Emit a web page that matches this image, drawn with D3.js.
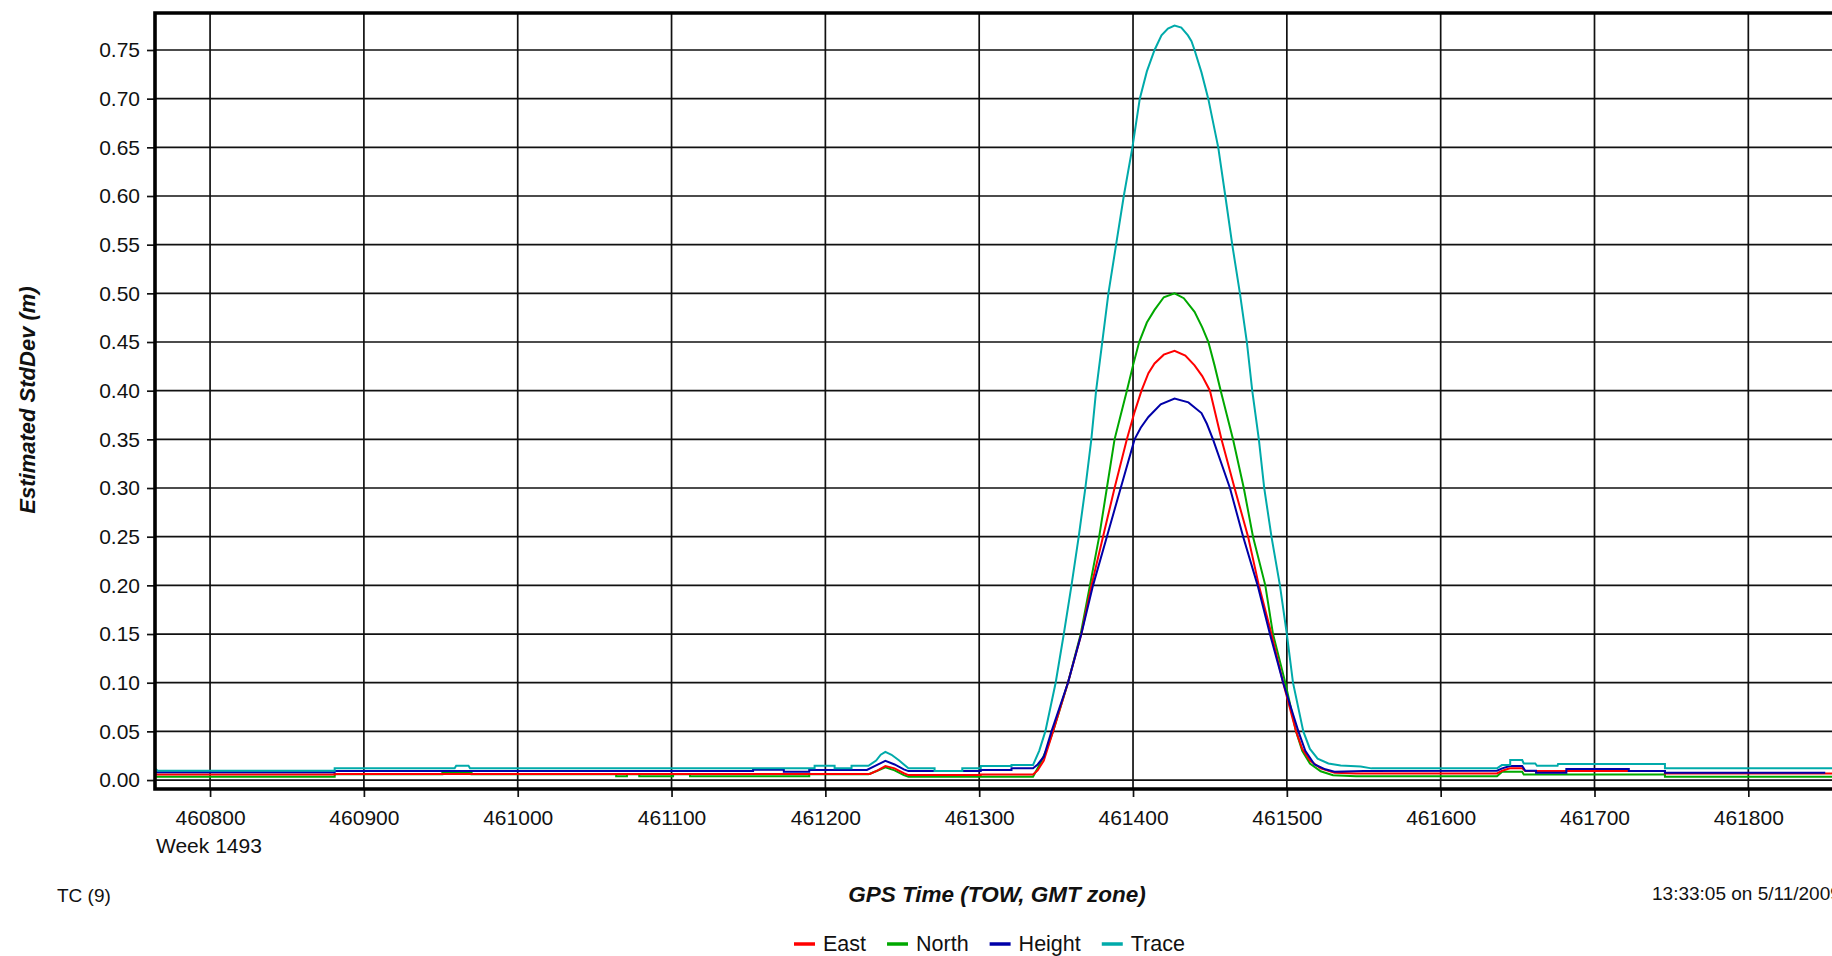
<!DOCTYPE html>
<html>
<head>
<meta charset="utf-8">
<script src="https://cdn.jsdelivr.net/npm/d3@7"></script>
<style>
  body { margin: 0; background: #fff; overflow: hidden; }
  text { font-family: "Liberation Sans", Arial, sans-serif; fill: #111; }
</style>
</head>
<body>
<div id="chart"></div>
<script>

// ----- data -----

// tick values
var xTicks = [460800, 460900, 461000, 461100, 461200, 461300, 461400, 461500, 461600, 461700, 461800];
var yTicks = [0, 0.05, 0.10, 0.15, 0.20, 0.25, 0.30, 0.35, 0.40, 0.45, 0.50, 0.55, 0.60, 0.65, 0.70, 0.75];

var seriesNames = ["East", "North", "Height", "Trace"];

// [GPS time (TOW), std dev (m)]
var eastData = [
  [460764, 0.0058], [460881, 0.0058], [460881, 0.0062], [461229, 0.0062], [461234, 0.010], [461239, 0.0144],
  [461245, 0.012], [461251, 0.007], [461254, 0.0051], [461301, 0.0051], [461301, 0.0058], [461335, 0.0058],
  [461338, 0.010], [461342, 0.020], [461348, 0.05], [461357.7, 0.10], [461366.4, 0.15], [461373, 0.20],
  [461380.5, 0.25], [461388, 0.30], [461396, 0.35], [461401, 0.378], [461405.5, 0.40], [461410, 0.418],
  [461414, 0.428], [461420, 0.437], [461427, 0.441], [461434, 0.436], [461440, 0.426], [461445, 0.415],
  [461450, 0.40], [461457.5, 0.35], [461466, 0.30], [461474.8, 0.25], [461481.8, 0.20], [461490, 0.15],
  [461497.6, 0.10], [461506, 0.05], [461510, 0.032], [461515, 0.020], [461522, 0.012], [461531, 0.0075],
  [461545, 0.0068],
  [461636.6, 0.0068], [461640, 0.0095], [461645, 0.012], [461653, 0.012], [461655, 0.0092], [461745.8, 0.0092],
  [461745.8, 0.0068], [461870, 0.0068]
];

var northData = [
  [460764, 0.0034], [460881, 0.0034], [460881, 0.006], [460951, 0.006], [460951, 0.0075], [460970, 0.0075],
  [460970, 0.006], [461064, 0.006], [461064, 0.004], [461071, 0.004], [461071, 0.006], [461079, 0.006],
  [461079, 0.004], [461101, 0.004], [461101, 0.006], [461112, 0.006], [461112, 0.004], [461189.5, 0.004],
  [461189.5, 0.006], [461228, 0.006], [461233, 0.009], [461239, 0.013], [461245, 0.010], [461251, 0.005],
  [461254, 0.0034], [461335, 0.0034],
  [461340, 0.018], [461344, 0.032], [461348, 0.05], [461357.7, 0.10], [461366, 0.15], [461372, 0.20],
  [461378, 0.25], [461383, 0.30], [461388, 0.35], [461392, 0.375], [461396, 0.40], [461400, 0.426],
  [461404, 0.45], [461409, 0.47], [461414, 0.483], [461420, 0.496], [461427, 0.50], [461433, 0.495],
  [461440, 0.481], [461445, 0.465], [461449, 0.45], [461453, 0.426], [461457, 0.40], [461461, 0.375],
  [461465, 0.35], [461472, 0.30], [461478, 0.25], [461486, 0.20], [461491, 0.15], [461499, 0.10],
  [461506, 0.05], [461510, 0.030], [461515, 0.017], [461522, 0.009], [461530, 0.005], [461545, 0.004],
  [461636.6, 0.004], [461640, 0.0086], [461653, 0.0086], [461654, 0.0058], [461745.8, 0.0058],
  [461745.8, 0.0034], [461870, 0.0034]
];

var heightData = [
  [460764, 0.0079], [460881, 0.0079], [460881, 0.0092], [461153, 0.0092], [461153, 0.0105], [461173, 0.0105],
  [461173, 0.0086], [461189.5, 0.0086], [461189.5, 0.0103], [461227, 0.0103], [461233, 0.015], [461239, 0.0198],
  [461245, 0.016], [461251, 0.011], [461254, 0.0092], [461301, 0.0092], [461301, 0.0103], [461321, 0.0103],
  [461321, 0.012], [461335, 0.012],
  [461338, 0.016], [461342, 0.024], [461347, 0.05], [461357.7, 0.10], [461366.4, 0.15], [461374, 0.20],
  [461383, 0.25], [461392, 0.30], [461401, 0.35], [461405, 0.362], [461410, 0.373], [461418, 0.386],
  [461427, 0.392], [461436, 0.388], [461444.5, 0.377], [461448, 0.366], [461452, 0.35], [461463, 0.30],
  [461471.6, 0.25], [461481, 0.20], [461489, 0.15], [461497.6, 0.10], [461507.5, 0.05], [461512, 0.030],
  [461518, 0.016], [461525, 0.011], [461531, 0.0086], [461550, 0.0092],
  [461636.6, 0.0096], [461640, 0.012], [461645, 0.0144], [461653, 0.0144], [461655, 0.0096], [461662, 0.0096],
  [461662, 0.0075], [461681.7, 0.0075], [461681.7, 0.0113], [461722.3, 0.0113], [461722.3, 0.0092],
  [461745.8, 0.0092], [461745.8, 0.0075], [461850, 0.0075]
];

var traceData = [
  [460764, 0.012], [460766, 0.0096], [460881, 0.0096], [460881, 0.012], [460959, 0.012], [460960, 0.0147],
  [460968, 0.0147], [460969, 0.012], [461193, 0.012], [461193, 0.0147], [461206, 0.0147], [461206, 0.012],
  [461217, 0.012], [461217, 0.0147], [461228, 0.0147], [461233, 0.020], [461236, 0.026], [461239, 0.029],
  [461243, 0.026], [461248, 0.020], [461254, 0.012], [461271, 0.012], [461271, 0.0092], [461289, 0.0092],
  [461289, 0.012], [461301, 0.012], [461301, 0.0144], [461321, 0.0144], [461321, 0.0155], [461335, 0.0155],
  [461339, 0.030], [461343, 0.05], [461349.7, 0.10], [461355, 0.15], [461360, 0.20], [461364.7, 0.25],
  [461369, 0.30], [461372.9, 0.35], [461376, 0.40], [461380, 0.45], [461384, 0.50], [461389, 0.55],
  [461394, 0.60], [461399.6, 0.65], [461404.4, 0.70], [461409, 0.728], [461414, 0.75], [461418.5, 0.765],
  [461422.7, 0.772], [461427, 0.775], [461431.4, 0.773], [461435.7, 0.765], [461438, 0.759], [461440, 0.75],
  [461444.5, 0.727], [461448.9, 0.70], [461455.4, 0.65], [461460, 0.60], [461464.5, 0.55], [461469.5, 0.50],
  [461474, 0.45], [461477.5, 0.40], [461481.8, 0.35], [461485.3, 0.30], [461490, 0.25], [461495.5, 0.20],
  [461500, 0.15], [461504, 0.10], [461510.7, 0.05], [461515, 0.032], [461520, 0.022], [461527, 0.017],
  [461535, 0.015], [461548, 0.014], [461555, 0.012],
  [461636.6, 0.012], [461639.8, 0.0154], [461645.2, 0.0154], [461645.2, 0.0205], [461653, 0.0205],
  [461654, 0.017], [461661.5, 0.017], [461662.6, 0.0147], [461676, 0.0147], [461676.3, 0.0164],
  [461745.8, 0.0164], [461745.8, 0.012], [461870, 0.012]
];

var seriesColors = {East: "#ff0000", North: "#00a800", Height: "#0000a8", Trace: "#00aaaa"};
var seriesData = {East: eastData, North: northData, Height: heightData, Trace: traceData};

// ----- drawing area -----

var W = 1832, H = 956;
var plotLeft = 155, plotTop = 13, plotBottom = 789, plotRight = 1856;  // right edge is cut off in the picture

var svg = d3.select("#chart")
    .append("svg")
    .attr("width", W)
    .attr("height", H);

var x = d3.scaleLinear()
    .domain([460764.2, 461870])
    .range([plotLeft, plotRight]);

var y = d3.scaleLinear()
    .domain([-0.0092, 0.788])
    .range([plotBottom, plotTop]);

svg.append("defs").append("clipPath")
    .attr("id", "clip")
    .append("rect")
    .attr("x", plotLeft)
    .attr("y", plotTop)
    .attr("width", plotRight - plotLeft)
    .attr("height", plotBottom - plotTop);

// grid
var grid = svg.append("g");

grid.selectAll(".hgrid")
    .data(yTicks)
    .enter()
    .append("line")
    .attr("x1", plotLeft)
    .attr("x2", W)
    .attr("y1", function(d){ return y(d); })
    .attr("y2", function(d){ return y(d); })
    .attr("stroke", "#111")
    .attr("stroke-width", 1.7);

grid.selectAll(".vgrid")
    .data(xTicks)
    .enter()
    .append("line")
    .attr("x1", function(d){ return x(d); })
    .attr("x2", function(d){ return x(d); })
    .attr("y1", plotTop)
    .attr("y2", plotBottom)
    .attr("stroke", "#111")
    .attr("stroke-width", 1.7);

// axes
var yAxis = svg.append("g")
    .attr("transform", "translate(" + plotLeft + ",0)")
    .call(d3.axisLeft(y).tickValues(yTicks).tickSize(8).tickPadding(7).tickFormat(d3.format(".2f")));

var xAxis = svg.append("g")
    .attr("transform", "translate(0," + plotBottom + ")")
    .call(d3.axisBottom(x).tickValues(xTicks).tickSize(8).tickPadding(13).tickFormat(d3.format("d")));

[yAxis, xAxis].forEach(function(a){
  a.select(".domain").remove();
  a.selectAll(".tick line").attr("stroke", "#111").attr("stroke-width", 1.7);
  a.selectAll(".tick text").style("font-size", "21px").style("fill", "#111")
    .style("font-family", "'Liberation Sans', Arial, sans-serif");
});

// series lines
var line = d3.line()
    .x(function(d){ return x(d[0]); })
    .y(function(d){ return y(d[1]); });

var drawOrder = ["North", "East", "Height", "Trace"];

svg.append("g")
    .attr("clip-path", "url(#clip)")
    .selectAll("path")
    .data(drawOrder)
    .enter()
    .append("path")
    .attr("d", function(d){ return line(seriesData[d]); })
    .attr("fill", "none")
    .attr("stroke", function(d){ return seriesColors[d]; })
    .attr("stroke-width", 2);

// plot frame (left, top, bottom)
svg.append("path")
    .attr("d", "M" + W + "," + plotTop + "H" + plotLeft + "V" + plotBottom + "H" + W)
    .attr("fill", "none")
    .attr("stroke", "#000")
    .attr("stroke-width", 3.6);

// texts
svg.append("text")
    .attr("x", plotLeft + 1)
    .attr("y", 853)
    .text("Week 1493")
    .style("font-size", "21px");

svg.append("text")
    .attr("x", 57)
    .attr("y", 902)
    .text("TC (9)")
    .style("font-size", "19px");

svg.append("text")
    .attr("x", 1652)
    .attr("y", 900)
    .text("13:33:05 on 5/11/2009")
    .style("font-size", "19px");

svg.append("text")
    .attr("x", 997)
    .attr("y", 902)
    .attr("text-anchor", "middle")
    .text("GPS Time (TOW, GMT zone)")
    .style("font-size", "22.5px")
    .style("font-weight", "bold")
    .style("font-style", "italic");

svg.append("text")
    .attr("transform", "translate(35,400) rotate(-90)")
    .attr("text-anchor", "middle")
    .text("Estimated StdDev (m)")
    .style("font-size", "22px")
    .style("font-weight", "bold")
    .style("font-style", "italic");

// legend
var legend = svg.append("g");
var lx = 794;
seriesNames.forEach(function(name){
  legend.append("line")
    .attr("x1", lx)
    .attr("x2", lx + 21)
    .attr("y1", 944)
    .attr("y2", 944)
    .attr("stroke", seriesColors[name])
    .attr("stroke-width", 3.5);
  var t = legend.append("text")
    .attr("x", lx + 29)
    .attr("y", 951)
    .text(name)
    .style("font-size", "21.5px");
  lx = lx + 29 + t.node().getComputedTextLength() + 21;
});

</script>
</body>
</html>
